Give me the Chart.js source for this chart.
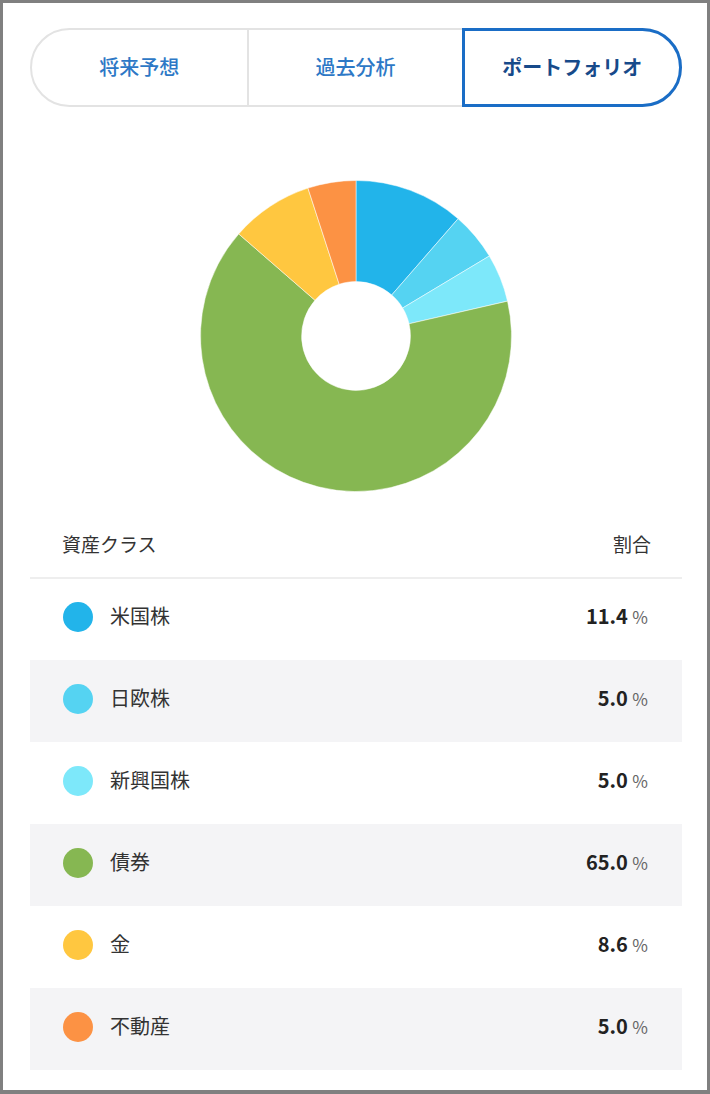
<!DOCTYPE html>
<html lang="ja">
<head>
<meta charset="utf-8">
<script src="https://cdn.jsdelivr.net/npm/chart.js@4.4.0/dist/chart.umd.min.js"></script>
<style>
  html, body { margin: 0; padding: 0; }
  body { width: 710px; height: 1094px; background: #808080; position: relative; overflow: hidden;
         font-family: "Noto Sans CJK JP", "Noto Sans", sans-serif; }
  #page { position: absolute; left: 3px; top: 3px; width: 704px; height: 1087px; background: #fff; }
  #tabs { position: absolute; left: 27px; top: 25px; width: 652px; height: 79px; box-sizing: border-box;
          border: 2px solid #e3e3e3; border-radius: 40px; display: flex; }
  .tab { height: 100%; display: flex; align-items: center; justify-content: center; box-sizing: border-box;
         font-size: 20px; color: #2d78c6; font-weight: 500; padding-bottom: 2px; }
  .tab.sep { border-right: 2px solid #e3e3e3; }
  .tab.active { border: 3px solid #1a6dc6; border-radius: 0 40px 40px 0; margin: -2px -2px -2px 0;
                height: 79px; color: #174a8a; font-weight: 700; }
  #chartBox { position: absolute; left: 197px; top: 177px; width: 312px; height: 312px; }
  #head { position: absolute; left: 27px; top: 525px; width: 652px; height: 49px; border-bottom: 2px solid #eeeeee;
          display: flex; justify-content: space-between; font-size: 19px; color: #333; }
  #head span { line-height: 32px; padding: 0 31px 0 32px; }
  #rows { position: absolute; left: 27px; top: 575px; width: 652px; }
  .row { height: 82px; position: relative; }
  .row.alt { background: #f4f4f6; }
  .dot { position: absolute; left: 33px; top: 24px; width: 30px; height: 30px; border-radius: 50%; }
  .lbl { position: absolute; left: 80px; top: 23px; line-height: 30px; font-size: 20px; color: #333; }
  .val { position: absolute; right: 34px; top: 23px; line-height: 30px; font-size: 20px; color: #222; font-weight: 600; }
  .val small { font-size: 17px; color: #666; font-weight: 400; }
</style>
</head>
<body>
<div id="page">
  <div id="tabs">
    <div class="tab sep" style="width:218px">将来予想</div>
    <div class="tab" style="width:215px">過去分析</div>
    <div class="tab active" style="width:221px">ポートフォリオ</div>
  </div>
  <div id="chartBox"><canvas id="myChart"></canvas></div>
  <div id="head"><span>資産クラス</span><span>割合</span></div>
  <div id="rows"></div>
</div>
<script>
var assetClasses = ['米国株', '日欧株', '新興国株', '債券', '金', '不動産'];
var shares = [11.4, 5.0, 5.0, 65.0, 8.6, 5.0];
var sliceColors = ['#22b4ea', '#55d3f2', '#7de8fa', '#86b752', '#ffc740', '#fc9244'];

// table rows
var rows = document.getElementById('rows');
assetClasses.forEach(function (name, i) {
    var row = document.createElement('div');
    row.className = 'row' + (i % 2 ? ' alt' : '');
    row.innerHTML = '<div class="dot" style="background:' + sliceColors[i] + '"></div>' +
        '<div class="lbl">' + name + '</div>' +
        '<div class="val">' + shares[i].toFixed(1) + ' <small>%</small></div>';
    rows.appendChild(row);
});

const config = {
    type: 'doughnut',
    data: {
        labels: assetClasses,
        datasets: [{
            data: shares,
            backgroundColor: sliceColors,
            borderColor: 'rgba(255,255,255,0.5)',
            borderWidth: 1
        }]
    },
    options: {
        responsive: true,
        maintainAspectRatio: false,
        animation: false,
        cutout: '35%',
        layout: { padding: 0 },
        plugins: {
            legend: { display: false },
            tooltip: { enabled: false }
        }
    }
};

let ctx = document.getElementById('myChart');
let pie = new Chart(ctx, config);
</script>
</body>
</html>
